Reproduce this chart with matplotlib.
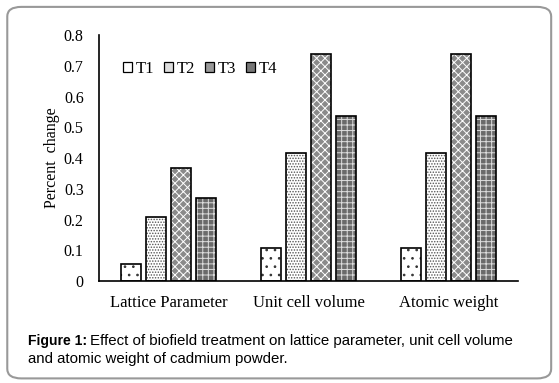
import matplotlib
matplotlib.use("Agg")
import matplotlib.pyplot as plt
from matplotlib.patches import Patch, FancyBboxPatch
import numpy as np

categories = ["Lattice Parameter", "Unit cell volume", "Atomic weight"]
series_names = ["T1", "T2", "T3", "T4"]
T1 = [0.055, 0.107, 0.107]
T2 = [0.208, 0.415, 0.415]
T3 = [0.367, 0.737, 0.737]
T4 = [0.270, 0.537, 0.537]
yticks = [0, 0.1, 0.2, 0.3, 0.4, 0.5, 0.6, 0.7, 0.8]
ytick_labels = ["0", "0.1", "0.2", "0.3", "0.4", "0.5", "0.6", "0.7", "0.8"]

plt.rcParams['hatch.linewidth'] = 0.7

fig = plt.figure(figsize=(5.59, 3.83), dpi=100)
ax = fig.add_axes([0.177, 0.266, 0.75, 0.6425])

styles = [
    dict(face="white", hatch="..", hcolor="#333333", legface="white"),
    dict(face="white", hatch="......", hcolor="#555555", legface="#dddddd"),
    dict(face="#8a8a8a", hatch="xxxx", hcolor="white", legface="#999999"),
    dict(face="#6a6a6a", hatch="+++", hcolor="#dddddd", legface="#777777"),
]

x = np.arange(len(categories))
width = 0.143
pitch = 0.179
data = [T1, T2, T3, T4]
handles = []
for i, (vals, st) in enumerate(zip(data, styles)):
    pos = x + (i - 1.5) * pitch
    ax.bar(pos, vals, width, facecolor=st["face"], edgecolor=st["hcolor"],
           hatch=st["hatch"], linewidth=0, zorder=2)
    ax.bar(pos, vals, width, fill=False, edgecolor="black", linewidth=1.2, zorder=3)
    handles.append(Patch(facecolor=st["legface"], edgecolor="black",
                         linewidth=0.9, label=series_names[i]))

ax.set_xlim(-0.5, 2.5)
ax.set_ylim(0, 0.8)
ax.set_yticks(yticks)
ax.set_yticklabels(ytick_labels)
ax.set_xticks(x)
ax.set_xticklabels(categories)
ax.tick_params(axis="both", length=0, labelsize=11.5)
ax.tick_params(axis="x", labelsize=12, pad=10)
ax.tick_params(axis="y", pad=11)
for lab in ax.get_xticklabels() + ax.get_yticklabels():
    lab.set_fontfamily("Liberation Serif")
ax.spines["top"].set_visible(False)
ax.spines["right"].set_visible(False)
ax.spines["left"].set_linewidth(1.2)
ax.spines["bottom"].set_linewidth(1.2)
ax.set_ylabel("Percent  change", fontfamily="Liberation Serif", fontsize=11.5, labelpad=3)

leg = ax.legend(handles=handles, loc="upper left", bbox_to_anchor=(0.022, 0.955),
                ncol=4, frameon=False, handlelength=0.55, handleheight=0.55,
                handletextpad=0.2, columnspacing=0.6,
                prop={"family": "Liberation Serif", "size": 12})

border = FancyBboxPatch((0.013, 0.012), 0.973, 0.97, boxstyle="round,pad=0,rounding_size=0.025",
                        transform=fig.transFigure, fill=False, edgecolor="#999999",
                        linewidth=1.5)
fig.patches.append(border)

fig.text(0.05, 0.100, "Figure 1:", fontfamily="Liberation Sans", fontweight="bold",
         fontsize=10.1)
fig.text(0.161, 0.100, "Effect of biofield treatment on lattice parameter, unit cell volume",
         fontfamily="Liberation Sans", fontsize=10.8)
fig.text(0.05, 0.052, "and atomic weight of cadmium powder.",
         fontfamily="Liberation Sans", fontsize=10.8)

fig.savefig("out.png", dpi=100)
